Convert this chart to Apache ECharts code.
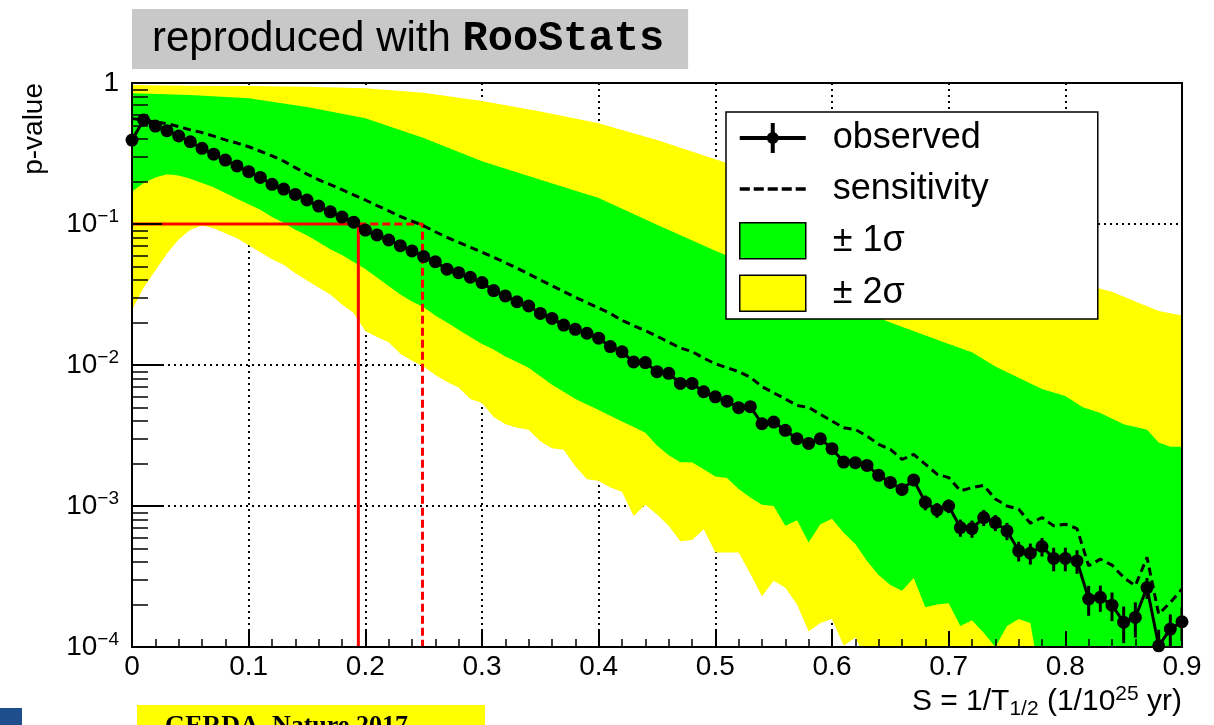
<!DOCTYPE html>
<html>
<head>
<meta charset="utf-8">
<script src="https://cdn.jsdelivr.net/npm/echarts@6/dist/echarts.min.js"></script>
<style>
html,body{margin:0;padding:0;background:#fff;}
#chart{width:1214px;height:725px;}
</style>
</head>
<body>
<div id="chart"></div>
<script>
// ---------------- DATA ----------------
const sGrid = [0,0.01,0.02,0.03,0.04,0.05,0.06,0.07,0.08,0.09,
  0.10,0.11,0.12,0.13,0.14,0.15,0.16,0.17,0.18,0.19,
  0.20,0.21,0.22,0.23,0.24,0.25,0.26,0.27,0.28,0.29,
  0.30,0.31,0.32,0.33,0.34,0.35,0.36,0.37,0.38,0.39,
  0.40,0.41,0.42,0.43,0.44,0.45,0.46,0.47,0.48,0.49,
  0.50,0.51,0.52,0.53,0.54,0.55,0.56,0.57,0.58,0.59,
  0.60,0.61,0.62,0.63,0.64,0.65,0.66,0.67,0.68,0.69,
  0.70,0.71,0.72,0.73,0.74,0.75,0.76,0.77,0.78,0.79,
  0.80,0.81,0.82,0.83,0.84,0.85,0.86,0.87,0.88,0.89,
  0.90];

const observed = [0.394,0.547,0.495,0.459,0.421,0.383,0.344,0.313,0.284,0.258,
  0.235,0.214,0.191,0.177,0.162,0.148,0.134,0.122,0.112,0.103,
  0.0906,0.0836,0.077,0.0702,0.0644,0.0587,0.054,0.0478,0.0452,0.0419,
  0.0384,0.0337,0.0309,0.0281,0.0262,0.0232,0.0214,0.0192,0.0179,0.0168,
  0.0155,0.0135,0.0124,0.0105,0.0104,0.00897,0.00873,0.0074,0.0074,0.00646,
  0.00595,0.00554,0.00498,0.00506,0.00383,0.00394,0.00344,0.0030,0.00278,0.0030,
  0.00255,0.00205,0.00203,0.00194,0.00165,0.00147,0.00131,0.00153,0.00106,0.000937,
  0.0010,0.000703,0.000692,0.000828,0.000763,0.000666,0.000481,0.000463,0.000516,0.000425,
  0.000425,0.000408,0.000219,0.000225,0.000198,0.000150,0.000162,0.000264,0.000102,0.000134,
  0.000151];

// relative statistical error of each observed point
const obsRelErr = [0.02,0.02,0.02,0.02,0.02,0.02,0.02,0.02,0.02,0.02,
  0.02,0.02,0.02,0.02,0.02,0.02,0.02,0.02,0.02,0.02,
  0.02,0.02,0.02,0.02,0.02,0.02,0.02,0.02,0.02,0.02,
  0.02,0.02,0.02,0.02,0.02,0.02,0.02,0.02,0.02,0.02,
  0.04,0.04,0.04,0.04,0.04,0.04,0.04,0.04,0.04,0.04,
  0.04,0.04,0.04,0.04,0.04,0.07,0.07,0.07,0.07,0.07,
  0.07,0.07,0.07,0.07,0.09,0.09,0.09,0.09,0.12,0.12,
  0.11,0.14,0.14,0.13,0.13,0.14,0.16,0.17,0.15,0.19,
  0.19,0.19,0.24,0.21,0.23,0.29,0.28,0.17,0.30,0.27,
  0.27];

const sensitivity = [0.56,0.545,0.53,0.515,0.49,0.465,0.445,0.42,0.395,0.375,
  0.353,0.328,0.304,0.279,0.251,0.226,0.206,0.190,0.175,0.161,
  0.148,0.135,0.124,0.113,0.105,0.097,0.0881,0.0803,0.0741,0.0684,
  0.0631,0.058,0.0532,0.0486,0.0442,0.0401,0.0365,0.0332,0.0302,0.0277,
  0.0254,0.0232,0.0207,0.0190,0.0175,0.016,0.01455,0.0132,0.01247,0.0112,
  0.0102,0.00957,0.00897,0.00818,0.00702,0.00634,0.00575,0.00516,0.0050,0.00447,
  0.0040,0.00359,0.00349,0.00313,0.00274,0.00252,0.00214,0.00232,0.00198,0.00168,
  0.00159,0.00128,0.00135,0.0014,0.00112,0.0010,0.00095,0.000755,0.000828,0.000723,
  0.000743,0.000692,0.000377,0.00042,0.000381,0.000311,0.000272,0.000432,0.000171,0.000207,
  0.000258];

// +2 sigma edge (smooth, sparse)
const yellowUpperS = [0,0.05,0.10,0.15,0.20,0.25,0.30,0.35,0.40,0.45,0.50,0.55,0.60,0.65,0.70,0.75,0.80,0.83,0.84,0.86,0.88,0.90];
const yellowUpper  = [0.968,0.957,0.953,0.942,0.916,0.853,0.746,0.627,0.519,0.394,0.288,0.211,0.153,0.111,0.0804,0.0582,0.0422,0.0348,0.0331,0.0282,0.0242,0.0224];

// +1 sigma edge (smooth, sparse)
const greenUpperS = [0,0.05,0.10,0.15,0.20,0.25,0.30,0.35,0.40,0.45,0.50,0.55,0.60,0.65,0.70,0.72,0.74,0.76,0.78,0.80,0.815,0.83,0.85,0.87,0.88,0.89,0.90];
const greenUpper  = [0.845,0.822,0.780,0.676,0.562,0.407,0.279,0.206,0.153,0.0989,0.0646,0.0437,0.0295,0.0200,0.0141,0.0123,0.00977,0.00813,0.00676,0.00603,0.00501,0.00457,0.0038,0.00347,0.00282,0.00263,0.00263];

// -1 sigma edge (on sGrid)
const greenLower = [0.170,0.195,0.214,0.225,0.221,0.209,0.195,0.182,0.166,0.151,
  0.138,0.126,0.112,0.102,0.0912,0.0832,0.0741,0.0661,0.0603,0.0537,
  0.0479,0.0417,0.0363,0.0316,0.0282,0.0257,0.0224,0.0200,0.0178,0.0158,
  0.0141,0.0129,0.0115,0.0105,0.00955,0.00832,0.00724,0.00646,0.00575,0.00525,
  0.00479,0.00437,0.00398,0.00363,0.00331,0.00269,0.00229,0.00204,0.00204,0.00182,
  0.00162,0.00158,0.00132,0.00115,0.00102,0.00100,0.000724,0.000794,0.00055,0.000741,
  0.000813,0.000646,0.000537,0.000407,0.000324,0.000275,0.000251,0.000309,0.000191,0.0002,
  0.000204,0.000141,0.000155,0.000126,0.0001,0.000141,0.000158,0.000148,0.00005,0.00003,
  0.00003,0.00003,0.00003,0.00003,0.00003,0.00003,0.00003,0.00003,0.00003,0.00003,
  0.00003];

// -2 sigma edge (on sGrid)
const yellowLower = [0.0247,0.0355,0.0468,0.0617,0.0776,0.0912,0.0977,0.0933,0.0861,0.0794,
  0.0708,0.0631,0.0562,0.0513,0.0447,0.0398,0.0355,0.0316,0.0269,0.0234,
  0.0174,0.0158,0.0145,0.0120,0.0107,0.00977,0.00851,0.00759,0.00692,0.00575,
  0.00537,0.00427,0.0038,0.00359,0.00347,0.00288,0.00257,0.00251,0.00191,0.00155,
  0.00151,0.00135,0.00126,0.000851,0.00102,0.000871,0.000724,0.000562,0.000575,0.000684,
  0.000468,0.000468,0.000468,0.000331,0.000229,0.000295,0.000263,0.0002,0.000129,0.000148,
  0.000158,0.000102,0.000117,0.0000794,0.00003,0.00003,0.00003,0.00003,0.00003,0.00003,
  0.00003,0.00003,0.00003,0.00003,0.00003,0.00003,0.00003,0.00003,0.00003,0.00003,
  0.00003,0.00003,0.00003,0.00003,0.00003,0.00003,0.00003,0.00003,0.00003,0.00003,
  0.00003];

// 90% CL limits (p = 0.1)
const pThreshold = 0.1;
const obsLimit = 0.194;
const sensLimit = 0.249;

const xTicks = [0,0.1,0.2,0.3,0.4,0.5,0.6,0.7,0.8,0.9];
const yMajorTicks = [1e-4,1e-3,1e-2,1e-1,1];
const yMinorTicks = [2e-4,3e-4,4e-4,5e-4,6e-4,7e-4,8e-4,9e-4,
  2e-3,3e-3,4e-3,5e-3,6e-3,7e-3,8e-3,9e-3,
  2e-2,3e-2,4e-2,5e-2,6e-2,7e-2,8e-2,9e-2,
  0.2,0.3,0.4,0.5,0.6,0.7,0.8,0.9];

// ---------------- CHART ----------------
const FONT = "'Liberation Sans', Arial, Helvetica, sans-serif";
const chart = echarts.init(document.getElementById('chart'), null, {renderer: 'canvas'});

function bandRenderer(upX, upY, loX, loY, color) {
  return function (params, api) {
    if (params.dataIndex !== 0) return null;
    const pts = [];
    for (let k = 0; k < upX.length; k++) pts.push(api.coord([upX[k], upY[k]]));
    for (let k = loX.length - 1; k >= 0; k--) pts.push(api.coord([loX[k], loY[k]]));
    return {type: 'polygon', shape: {points: pts}, style: {fill: color, stroke: null}};
  };
}

const dotted = {color: '#000', width: 2, type: [2, 4]};

const option = {
  animation: false,
  backgroundColor: '#fff',
  title: [{
    text: '{a|reproduced with }{b|RooStats}',
    left: 132, top: 6,
    padding: [9, 24, 9, 20],
    backgroundColor: '#c8c8c8',
    textStyle: {
      fontWeight: 'normal',
      rich: {
        a: {fontFamily: FONT, fontWeight: 'normal', fontSize: 42, color: '#000', lineHeight: 48},
        b: {fontFamily: "'Liberation Mono', 'Courier New', monospace", fontWeight: 'bold', fontSize: 42, color: '#000', lineHeight: 48}
      }
    }
  }],
  grid: {left: 132, top: 83, right: 32, bottom: 78, show: true, borderColor: '#000', borderWidth: 2, backgroundColor: 'transparent', z: 20, containLabel: false, outerBoundsMode: 'none'},
  legend: {
    orient: 'vertical', left: 726, top: 112,
    padding: [8, 109, 7, 13],
    backgroundColor: '#fff', borderColor: '#000', borderWidth: 1.5,
    itemWidth: 66, itemHeight: 36, itemGap: 15,
    selectedMode: false,
    textStyle: {fontFamily: FONT, fontSize: 36, color: '#000', padding: [0, 0, 0, 22]},
    z: 30,
    data: [
      {name: 'observed', icon: 'path://M0,16 L66,16 L66,20 L0,20 Z M31,3 L35,3 L35,33 L31,33 Z M33,12 A6,6 0 1,1 33,24 A6,6 0 1,1 33,12 Z', itemStyle: {color: '#000', borderWidth: 0}},
      {name: 'sensitivity', icon: 'path://M0,0 L9,0 L9,3 L0,3 Z M12.5,0 L21.5,0 L21.5,3 L12.5,3 Z M25,0 L34,0 L34,3 L25,3 Z M37.5,0 L46.5,0 L46.5,3 L37.5,3 Z M50,0 L59,0 L59,3 L50,3 Z', itemStyle: {color: '#000', borderWidth: 0}},
      {name: '± 1σ', icon: 'rect', itemStyle: {color: '#00ff00', borderColor: '#000', borderWidth: 1.5}},
      {name: '± 2σ', icon: 'rect', itemStyle: {color: '#ffff00', borderColor: '#000', borderWidth: 1.5}}
    ]
  },
  xAxis: [
    {type: 'value', min: 0, max: 0.9, interval: 0.1, position: 'bottom', z: 0,
      axisLine: {show: false}, axisTick: {show: false}, axisLabel: {show: false},
      splitLine: {show: true, lineStyle: dotted}},
    {type: 'value', min: 0, max: 0.9, interval: 0.1, position: 'bottom', z: 10,
      axisLine: {show: false},
      axisTick: {show: true, inside: true, length: 16, lineStyle: {color: '#000', width: 2}},
      minorTick: {show: true, splitNumber: 5, length: 8, lineStyle: {color: '#000', width: 1.5}},
      splitLine: {show: false},
      axisLabel: {show: true, margin: 6, fontFamily: FONT, fontSize: 28, color: '#000',
        formatter: function (v) { return v === 0 ? '0' : v.toFixed(1); }},
      name: 'S = 1/T{sub|1/2} (1/10{sup|25} yr)',
      nameLocation: 'end', nameGap: 0, nameMoveOverlap: false,
      nameTextStyle: {fontFamily: FONT, fontSize: 30, color: '#000', align: 'right', verticalAlign: 'top',
        lineHeight: 36, padding: [37, 0, 0, 0],
        rich: {
          sub: {fontFamily: FONT, fontSize: 21, color: '#000', verticalAlign: 'bottom', lineHeight: 21},
          sup: {fontFamily: FONT, fontSize: 21, color: '#000', verticalAlign: 'top', lineHeight: 21}
        }}}
  ],
  yAxis: [
    {type: 'log', logBase: 10, min: 1e-4, max: 1, z: 0,
      axisLine: {show: false}, axisTick: {show: false}, axisLabel: {show: false},
      splitLine: {show: true, lineStyle: dotted}},
    {type: 'log', logBase: 10, min: 1e-4, max: 1, z: 10, position: 'left',
      axisLine: {show: false}, splitLine: {show: false},
      axisTick: {show: true, inside: true, length: 30, lineStyle: {color: '#000', width: 2}, customValues: yMajorTicks},
      axisLabel: {show: true, margin: 13, fontFamily: FONT, fontSize: 28, color: '#000', lineHeight: 34,
        customValues: yMajorTicks,
        formatter: function (v) {
          if (Math.abs(v - 1) < 1e-9) return '1';
          const e = Math.round(Math.log10(v));
          return '10{sup|\u2212' + (-e) + '}';
        },
        rich: {sup: {fontFamily: FONT, fontSize: 19, color: '#000', verticalAlign: 'top', lineHeight: 20}}},
      name: 'p-value', nameLocation: 'end', nameGap: 0, nameRotate: 90, nameMoveOverlap: false,
      nameTextStyle: {fontFamily: FONT, fontSize: 28, color: '#000', align: 'right', verticalAlign: 'bottom', padding: [0, 0, 84, 0]}},
    {type: 'log', logBase: 10, min: 1e-4, max: 1, z: 10, position: 'left',
      axisLine: {show: false}, splitLine: {show: false}, axisLabel: {show: false},
      axisTick: {show: true, inside: true, length: 16, lineStyle: {color: '#000', width: 1.5}, customValues: yMinorTicks}}
  ],
  series: [
    {name: '± 2σ', type: 'custom', xAxisIndex: 0, yAxisIndex: 0, clip: true, silent: true, z: 1,
      itemStyle: {color: '#ffff00'}, data: [[0.45, 0.01]], encode: {x: 0, y: 1},
      renderItem: bandRenderer(yellowUpperS, yellowUpper, sGrid, yellowLower, '#ffff00')},
    {name: '± 1σ', type: 'custom', xAxisIndex: 0, yAxisIndex: 0, clip: true, silent: true, z: 2,
      itemStyle: {color: '#00ff00'}, data: [[0.45, 0.01]], encode: {x: 0, y: 1},
      renderItem: bandRenderer(greenUpperS, greenUpper, sGrid, greenLower, '#00ff00')},
    {name: 'obsLimit', type: 'line', xAxisIndex: 0, yAxisIndex: 0, silent: true, z: 3, symbol: 'none',
      lineStyle: {color: '#ff0000', width: 3},
      data: [[0, pThreshold], [obsLimit, pThreshold], [obsLimit, 1e-4]]},
    {name: 'sensLimit', type: 'line', xAxisIndex: 0, yAxisIndex: 0, silent: true, z: 3, symbol: 'none',
      lineStyle: {color: '#ff0000', width: 3, type: [8, 4]},
      data: [[obsLimit, pThreshold], [sensLimit, pThreshold], [sensLimit, 1e-4]]},
    {name: 'sensitivity', type: 'line', xAxisIndex: 0, yAxisIndex: 0, silent: true, z: 4, symbol: 'none',
      itemStyle: {color: '#000'}, lineStyle: {color: '#000', width: 3, type: [8, 5]},
      data: sGrid.map(function (x, i) { return [x, sensitivity[i]]; })},
    {name: 'obsErr', type: 'custom', xAxisIndex: 0, yAxisIndex: 0, clip: true, silent: true, z: 5,
      encode: {x: 0, y: [1, 2]},
      data: sGrid.map(function (x, i) { return [x, observed[i] * (1 - obsRelErr[i]), observed[i] * (1 + obsRelErr[i])]; }),
      renderItem: function (params, api) {
        const a = api.coord([api.value(0), api.value(1)]);
        const b = api.coord([api.value(0), api.value(2)]);
        return {type: 'line', shape: {x1: a[0], y1: a[1], x2: b[0], y2: b[1]}, style: {stroke: '#000', lineWidth: 3}};
      }},
    {name: 'observed', type: 'line', xAxisIndex: 0, yAxisIndex: 0, silent: true, z: 6,
      symbol: 'circle', symbolSize: 13, showAllSymbol: true,
      itemStyle: {color: '#000'}, lineStyle: {color: '#000', width: 3},
      data: sGrid.map(function (x, i) { return [x, observed[i]]; })}
  ],
  graphic: [
    {type: 'rect', left: 0, top: 708, shape: {width: 22, height: 17}, style: {fill: '#1f4e8c'}, z: 50},
    {type: 'rect', left: 137, top: 705, shape: {width: 348, height: 20}, style: {fill: '#ffff00'}, z: 50},
    {type: 'text', left: 165, top: 713, style: {text: 'GERDA, Nature 2017', font: "bold 26px 'Liberation Serif', 'Times New Roman', serif", fill: '#000'}, z: 51}
  ]
};
chart.setOption(option);
</script>
</body>
</html>
